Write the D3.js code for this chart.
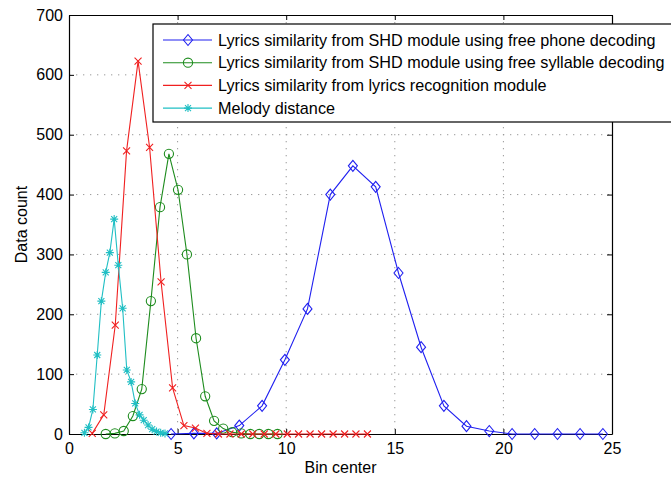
<!DOCTYPE html>
<html>
<head>
<meta charset="utf-8">
<script src="https://cdn.jsdelivr.net/npm/d3@7"></script>
<style>
    body { margin: 0; background: #fff; }
    svg { display: block; font-family: "Liberation Sans", Arial, sans-serif; }
    .axis text { font-size: 16px; fill: #000; }
    .axis path, .axis line { stroke: #000; }
    .grid line { stroke: #999; stroke-dasharray: 1.3,5.7; }
    .series path.line { fill: none; stroke-width: 1.1; }
    .legend text { font-size: 16.2px; }
</style>
</head>
<body>
<svg></svg>
<script>

// Bin centers and counts for each series.
var phoneX = [4.7, 5.75, 6.8, 7.84, 8.89, 9.94, 10.98, 12.03, 13.07, 14.12,
    15.17, 16.21, 17.26, 18.3, 19.35, 20.4, 21.44, 22.49, 23.53, 24.58];
var phoneY = [0, 1, 1, 14, 47, 124, 209, 400, 448, 413,
    269, 145, 47, 13, 5, 0, 0, 0, 0, 0];

var syllableX = [1.69, 2.11, 2.52, 2.94, 3.35, 3.77, 4.19, 4.6, 5.02, 5.43,
    5.85, 6.27, 6.68, 7.1, 7.51, 7.93, 8.35, 8.76, 9.18, 9.6];
var syllableY = [0, 1, 5, 30, 75, 222, 379, 468, 408, 300,
    160, 63, 22, 9, 3, 1, 0, 0, 0, 0];

var recogX = [1.07, 1.6, 2.13, 2.65, 3.18, 3.71, 4.24, 4.77, 5.29, 5.82,
    6.35, 6.88, 7.41, 7.93, 8.46, 8.99, 9.52, 10.05, 10.57, 11.1,
    11.63, 12.16, 12.69, 13.21, 13.74];
var recogY = [1, 32, 182, 473, 623, 479, 254, 77, 14, 10,
    1, 0, 0, 0, 0, 0, 0, 0, 0, 0,
    0, 0, 0, 0, 0];

var melodyX = [0.71, 0.9, 1.1, 1.3, 1.49, 1.69, 1.88, 2.08, 2.27, 2.47,
    2.66, 2.86, 3.05, 3.25, 3.44, 3.64, 3.83, 4.03, 4.22, 4.42];
var melodyY = [2, 11, 41, 132, 222, 270, 303, 359, 282, 210,
    107, 87, 51, 32, 23, 15, 8, 4, 2, 1];

var seriesNames = [
    'Lyrics similarity from SHD module using free phone decoding',
    'Lyrics similarity from SHD module using free syllable decoding',
    'Lyrics similarity from lyrics recognition module',
    'Melody distance'
];
var seriesColors = ['#2020f0', '#1e8c1e', '#f02020', '#20bfc4'];
var seriesMarkers = ['diamond', 'circle', 'x', 'asterisk'];

var xTicks = [0, 5, 10, 15, 20, 25];
var yTicks = [0, 100, 200, 300, 400, 500, 600, 700];


//==========================================================================
// Set up the chart.

var margin = {
    top: 15,
    right: 59,
    bottom: 46,
    left: 69
};
var width = 671 - margin.left - margin.right;
var height = 480 - margin.top - margin.bottom;

var svg = d3.select('svg')
    .attr('width', 671)
    .attr('height', 480)
;

var chart = svg.append('g')
    .attr('transform', 'translate(' + margin.left + ',' + margin.top + ')')
;

var xScale = d3.scaleLinear()
    .domain([0, 25])
    .range([0, width])
;

var yScale = d3.scaleLinear()
    .domain([0, 700])
    .range([height, 0])
;

// Dotted grid on the inner ticks.
var grid = chart.append('g').classed('grid', true);

grid.selectAll('.vgrid')
    .data(xTicks.slice(1, -1))
    .enter()
    .append('line')
    .attr('x1', function(d) { return xScale(d); })
    .attr('x2', function(d) { return xScale(d); })
    .attr('y1', 0)
    .attr('y2', height)
;

grid.selectAll('.hgrid')
    .data(yTicks.slice(1, -1))
    .enter()
    .append('line')
    .attr('x1', 0)
    .attr('x2', width)
    .attr('y1', function(d) { return yScale(d); })
    .attr('y2', function(d) { return yScale(d); })
;

// Axes with the ticks pointing inwards, box style.
chart.append('g')
    .classed('axis', true)
    .attr('transform', 'translate(0,' + height + ')')
    .call(d3.axisBottom(xScale).tickValues(xTicks).tickSizeInner(-5).tickSizeOuter(0).tickPadding(9))
;

chart.append('g')
    .classed('axis', true)
    .call(d3.axisTop(xScale).tickValues(xTicks).tickSizeInner(-5).tickSizeOuter(0).tickFormat(''))
;

chart.append('g')
    .classed('axis', true)
    .call(d3.axisLeft(yScale).tickValues(yTicks).tickSizeInner(-5).tickSizeOuter(0).tickPadding(6))
;

chart.append('g')
    .classed('axis', true)
    .attr('transform', 'translate(' + width + ',0)')
    .call(d3.axisRight(yScale).tickValues(yTicks).tickSizeInner(-5).tickSizeOuter(0).tickFormat(''))
;

chart.selectAll('.axis .domain').attr('stroke-width', 1.2);

// Axis titles.
svg.append('text')
    .attr('x', margin.left + width / 2)
    .attr('y', 473)
    .attr('text-anchor', 'middle')
    .style('font-size', '16px')
    .text('Bin center')
;

svg.append('text')
    .attr('transform', 'translate(27,' + (margin.top + height / 2) + ') rotate(-90)')
    .attr('text-anchor', 'middle')
    .style('font-size', '16px')
    .text('Data count')
;


//==========================================================================
// Markers and series.

function markerPath(type) {
    var p = d3.path();
    if (type === 'diamond') {
        p.moveTo(0, -5.5);
        p.lineTo(4.5, 0);
        p.lineTo(0, 5.5);
        p.lineTo(-4.5, 0);
        p.closePath();
    } else if (type === 'circle') {
        p.arc(0, 0, 4.6, 0, 2 * Math.PI);
    } else if (type === 'x') {
        p.moveTo(-3.5, -3.5); p.lineTo(3.5, 3.5);
        p.moveTo(-3.5, 3.5); p.lineTo(3.5, -3.5);
    } else {
        p.moveTo(-4, 0); p.lineTo(4, 0);
        p.moveTo(0, -4); p.lineTo(0, 4);
        p.moveTo(-3, -3); p.lineTo(3, 3);
        p.moveTo(-3, 3); p.lineTo(3, -3);
    }
    return p.toString();
}

function zipPoints(xs, ys) {
    return xs.map(function(x, i) { return { x: x, y: ys[i] }; });
}

var seriesData = [
    zipPoints(phoneX, phoneY),
    zipPoints(syllableX, syllableY),
    zipPoints(recogX, recogY),
    zipPoints(melodyX, melodyY)
];

var line = d3.line()
    .x(function(d) { return xScale(d.x); })
    .y(function(d) { return yScale(d.y); })
;

var series = chart.selectAll('.series')
    .data(seriesData)
    .enter()
    .append('g')
    .classed('series', true)
;

series.append('path')
    .classed('line', true)
    .attr('d', line)
    .style('stroke', function(d, i) { return seriesColors[i]; })
;

series.each(function(points, i) {
    d3.select(this).selectAll('.marker')
        .data(points)
        .enter()
        .append('path')
        .classed('marker', true)
        .attr('transform', function(d) {
            return 'translate(' + xScale(d.x) + ',' + yScale(d.y) + ')';
        })
        .attr('d', markerPath(seriesMarkers[i]))
        .style('fill', 'none')
        .style('stroke', seriesColors[i])
        .style('stroke-width', 1.1)
    ;
});


//==========================================================================
// Legend.

var legend = svg.append('g')
    .classed('legend', true)
    .attr('transform', 'translate(153,24)')
;

legend.append('rect')
    .attr('width', 530)
    .attr('height', 98)
    .style('fill', '#fff')
    .style('stroke', '#000')
    .style('stroke-width', 1.2)
;

var legendRows = legend.selectAll('.legend-row')
    .data(seriesNames)
    .enter()
    .append('g')
    .attr('transform', function(d, i) {
        return 'translate(0,' + (16 + i * 22.7) + ')';
    })
;

legendRows.append('line')
    .attr('x1', 10)
    .attr('x2', 59)
    .style('stroke', function(d, i) { return seriesColors[i]; })
    .style('stroke-width', 1.1)
;

legendRows.append('path')
    .attr('transform', 'translate(35,0)')
    .attr('d', function(d, i) { return markerPath(seriesMarkers[i]); })
    .style('fill', 'none')
    .style('stroke', function(d, i) { return seriesColors[i]; })
    .style('stroke-width', 1.1)
;

legendRows.append('text')
    .attr('x', 65)
    .attr('dy', '0.35em')
    .text(function(d) { return d; })
;

</script>
</body>
</html>
